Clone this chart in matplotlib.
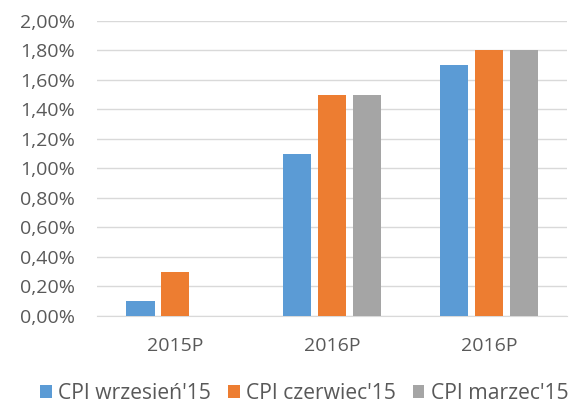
import numpy as np
import matplotlib
matplotlib.use('Agg')
import matplotlib.pyplot as plt
from matplotlib.ticker import FuncFormatter, MultipleLocator

categories = ['2015P', '2016P', '2016P']
series_names = ["CPI wrzesień'15", "CPI czerwiec'15", "CPI marzec'15"]
cpi_wrzesien = [0.10, 1.10, 1.70]
cpi_czerwiec = [0.30, 1.50, 1.80]
cpi_marzec = [np.nan, 1.50, 1.80]
colors = ['#5B9BD5', '#ED7D31', '#A5A5A5']

plt.rcParams['font.family'] = ['Open Sans', 'DejaVu Sans']
text_color = '#595959'

fig = plt.figure(figsize=(5.74, 4.03), dpi=100)
ax = fig.add_axes([0.169, 0.216, 0.819, 0.732])

x = np.arange(len(categories))
width = 0.18
step = 0.223
for i, (vals, name, c) in enumerate(zip([cpi_wrzesien, cpi_czerwiec, cpi_marzec],
                                        series_names, colors)):
    ax.bar(x + (i - 1) * step, vals, width, color=c, label=name, zorder=3)

ax.set_xlim(-0.5, len(categories) - 0.5)
ax.set_ylim(0, 2.0)
ax.yaxis.set_major_locator(MultipleLocator(0.2))
ax.yaxis.set_major_formatter(FuncFormatter(lambda v, p: f'{v:.2f}%'.replace('.', ',')))
ax.set_xticks(x)
ax.set_xticklabels(categories)

ax.grid(axis='y', color='#D9D9D9', linewidth=1.0, zorder=0)
for s in ['top', 'right', 'left']:
    ax.spines[s].set_visible(False)
ax.spines['bottom'].set_color('#D9D9D9')
ax.tick_params(axis='both', length=0, labelsize=14, colors=text_color)
ax.tick_params(axis='x', pad=15)
ax.tick_params(axis='y', pad=16)

fig.legend(loc='center', bbox_to_anchor=(0.53, 0.024), ncol=3, frameon=False,
           fontsize=15.2, labelcolor=text_color, handlelength=0.55, handleheight=0.55,
           handletextpad=0.3, columnspacing=0.8)

fig.savefig('out.png', dpi=100)
